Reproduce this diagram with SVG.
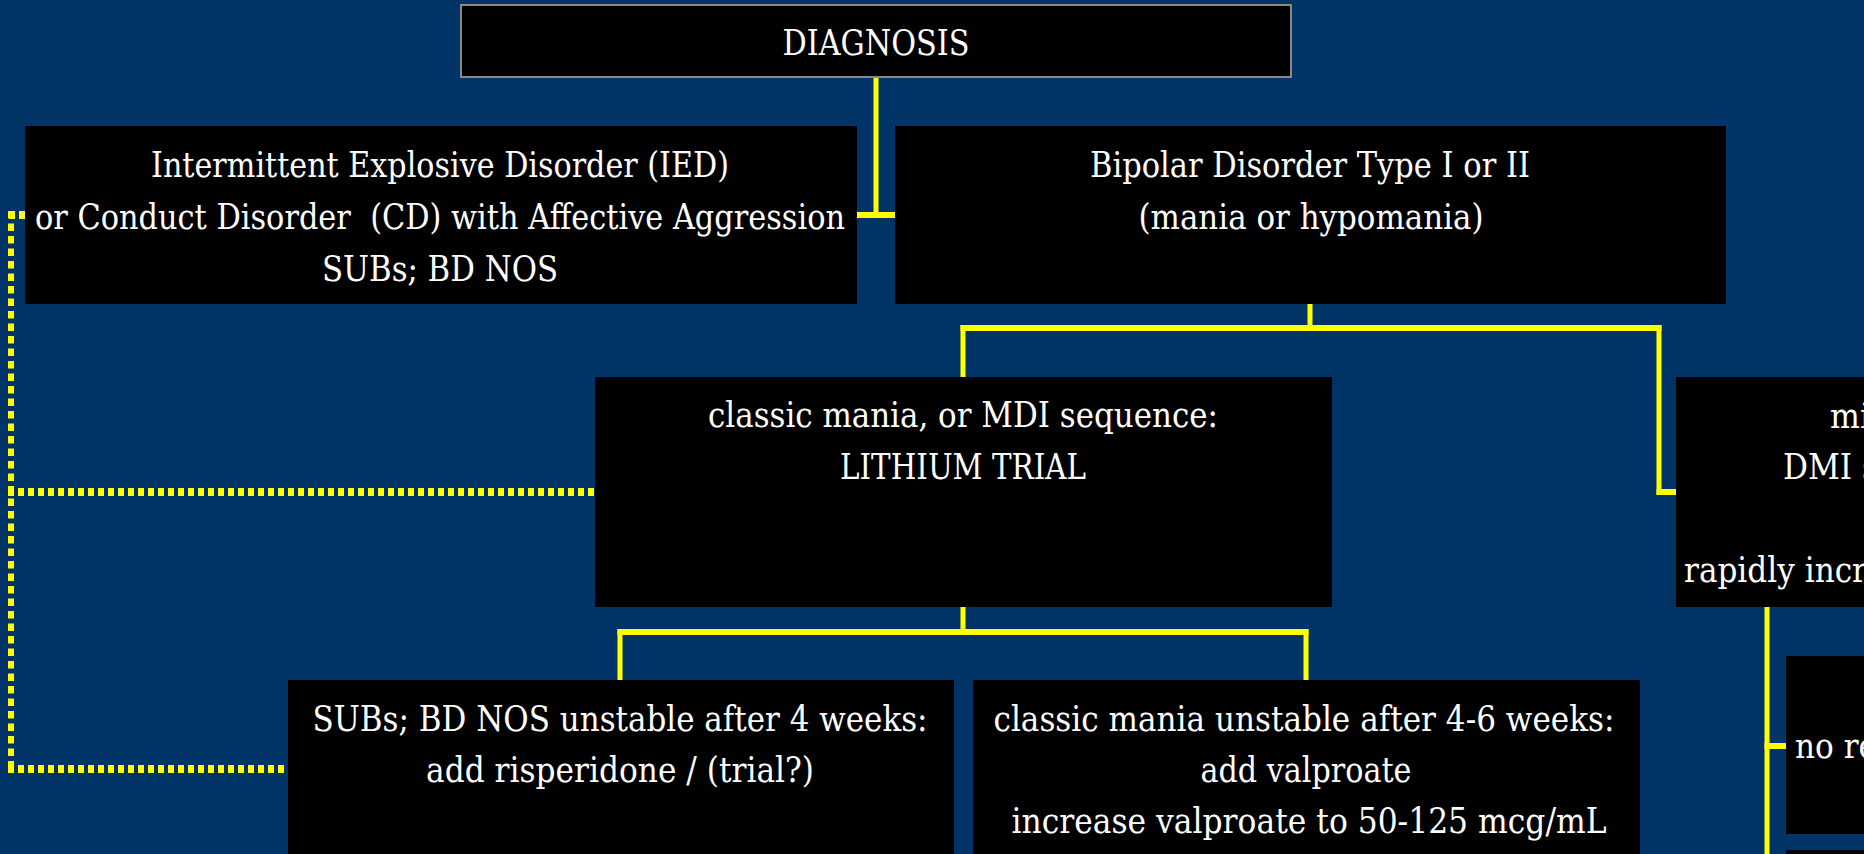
<svg xmlns="http://www.w3.org/2000/svg" width="1864" height="854" viewBox="0 0 1864 854">
  <style>
    .box { fill: #000000; }
    .title { fill: #000000; stroke: #8a8a8a; stroke-width: 2; }
    .t { font-family: "DejaVu Serif", "Liberation Serif", serif; font-size: 36px; fill: #ffffff; text-anchor: middle; }
    .ts { font-family: "DejaVu Serif", "Liberation Serif", serif; font-size: 36px; fill: #ffffff; text-anchor: start; }
    .solid-h { fill: none; stroke: #ffff00; stroke-width: 6; }
    .solid-v { fill: none; stroke: #ffff00; stroke-width: 5; }
    .dots-h { fill: none; stroke: #ffff00; stroke-width: 8; stroke-dasharray: 6 4; }
    .dots-v { fill: none; stroke: #ffff00; stroke-width: 6; stroke-dasharray: 7.5 5; }
  </style>
  <rect width="1864" height="854" fill="#003366"/>

  <g id="connectors">
    <!-- vertical runs -->
    <path class="solid-v" d="M876 77 V218 M1310 304 V331 M963 325 V377 M1659 325 V495 M963 607 V635 M620 629 V680 M1306 629 V680 M1767 607 V854"/>
    <!-- horizontal runs -->
    <path class="solid-h" d="M856 215 H895 M960.5 328 H1661.5 M1656.5 492 H1676 M617.5 632 H1308.5 M1764.5 746 H1786"/>
    <!-- dotted links from the IED box -->
    <path class="dots-v" d="M11 211 V773"/>
    <path class="dots-h" d="M25 215 H8 M8 492 H595 M8 769 H288"/>
  </g>

  <g id="diagnosis">
    <rect class="title" x="461" y="5" width="830" height="72"/>
    <text class="t" x="876" y="55" textLength="187" lengthAdjust="spacingAndGlyphs">DIAGNOSIS</text>
  </g>

  <g id="ied">
    <rect class="box" x="25" y="126" width="832" height="178"/>
    <text class="t" x="440" y="177" textLength="578" lengthAdjust="spacingAndGlyphs">Intermittent Explosive Disorder (IED)</text>
    <text class="t" x="440" y="229" textLength="810" lengthAdjust="spacingAndGlyphs" xml:space="preserve">or Conduct Disorder  (CD) with Affective Aggression</text>
    <text class="t" x="440" y="281" textLength="236" lengthAdjust="spacingAndGlyphs">SUBs; BD NOS</text>
  </g>

  <g id="bipolar">
    <rect class="box" x="895" y="126" width="831" height="178"/>
    <text class="t" x="1310" y="177" textLength="440" lengthAdjust="spacingAndGlyphs">Bipolar Disorder Type I or II</text>
    <text class="t" x="1311" y="229" textLength="345" lengthAdjust="spacingAndGlyphs">(mania or hypomania)</text>
  </g>

  <g id="lithium">
    <rect class="box" x="595" y="377" width="737" height="230"/>
    <text class="t" x="963" y="427" textLength="510" lengthAdjust="spacingAndGlyphs">classic mania, or MDI sequence:</text>
    <text class="t" x="963" y="479" textLength="246" lengthAdjust="spacingAndGlyphs">LITHIUM TRIAL</text>
  </g>

  <g id="mixed">
    <rect class="box" x="1676" y="377" width="200" height="230"/>
    <text class="ts" x="1830" y="428" textLength="40" lengthAdjust="spacingAndGlyphs">mi</text>
    <text class="ts" x="1783" y="479" textLength="95" lengthAdjust="spacingAndGlyphs">DMI s</text>
    <text class="ts" x="1684" y="582" textLength="183" lengthAdjust="spacingAndGlyphs">rapidly incr</text>
  </g>

  <g id="risperidone">
    <rect class="box" x="288" y="680" width="666" height="190"/>
    <text class="t" x="620" y="731" textLength="615" lengthAdjust="spacingAndGlyphs">SUBs; BD NOS unstable after 4 weeks:</text>
    <text class="t" x="620" y="782" textLength="388" lengthAdjust="spacingAndGlyphs">add risperidone / (trial?)</text>
  </g>

  <g id="valproate">
    <rect class="box" x="973" y="680" width="667" height="190"/>
    <text class="t" x="1304" y="731" textLength="621" lengthAdjust="spacingAndGlyphs">classic mania unstable after 4-6 weeks:</text>
    <text class="t" x="1306" y="782" textLength="211" lengthAdjust="spacingAndGlyphs">add valproate</text>
    <text class="t" x="1309" y="833" textLength="595" lengthAdjust="spacingAndGlyphs">increase valproate to 50-125 mcg/mL</text>
  </g>

  <g id="no-response">
    <rect class="box" x="1786" y="656" width="100" height="178"/>
    <text class="ts" x="1795" y="758" textLength="82" lengthAdjust="spacingAndGlyphs">no re</text>
  </g>

  <g id="next-step">
    <rect class="box" x="1786" y="850" width="100" height="20"/>
  </g>
</svg>
